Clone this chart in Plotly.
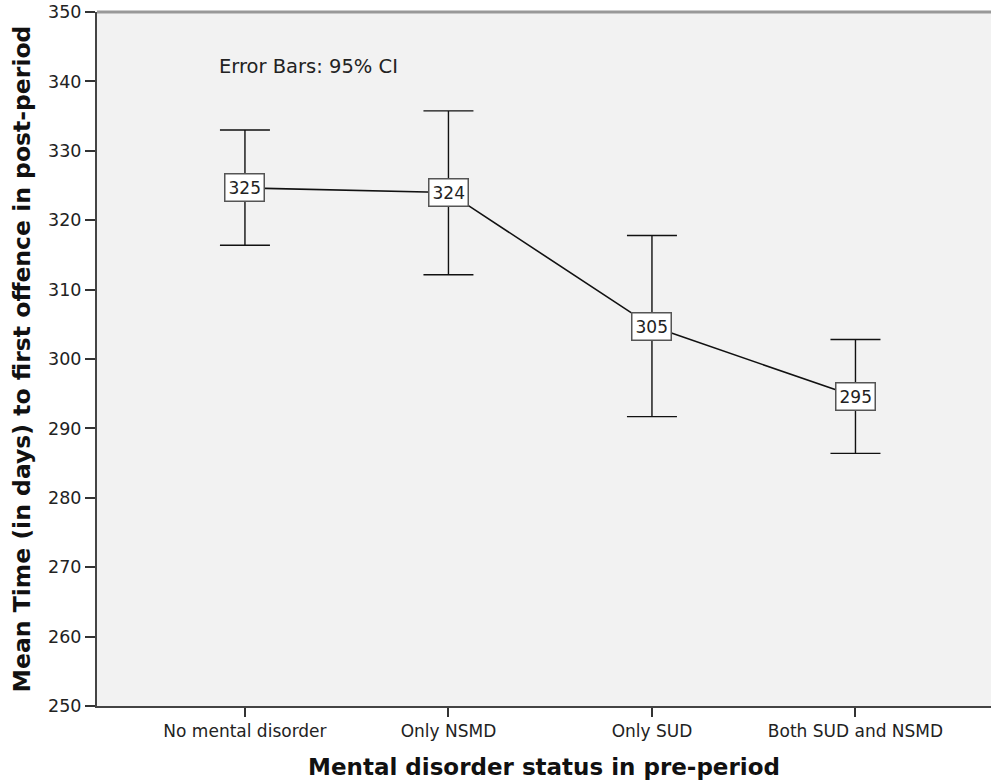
import plotly.graph_objects as go

categories = ["No mental disorder", "Only NSMD", "Only SUD", "Both SUD and NSMD"]
means = [324.65, 324.0, 304.7, 294.6]
ci_upper = [333.0, 335.75, 317.8, 302.8]
ci_lower = [316.4, 312.15, 291.7, 286.4]

err_plus = [u - m for u, m in zip(ci_upper, means)]
err_minus = [m - l for m, l in zip(means, ci_lower)]

FONT = "DejaVu Sans"

fig = go.Figure()
fig.add_trace(go.Scatter(
    x=categories, y=means, mode="lines",
    line=dict(color="#111111", width=1.6),
    error_y=dict(type="data", symmetric=False, array=err_plus, arrayminus=err_minus,
                 color="#111111", thickness=1.4, width=25),
    showlegend=False, hoverinfo="skip",
))

for c, m in zip(categories, means):
    fig.add_annotation(x=c, y=m, text=f"{m:.0f}", showarrow=False,
                       font=dict(family=FONT, size=17, color="#222222"),
                       bgcolor="white", bordercolor="#555555", borderwidth=1.5, borderpad=3)

fig.add_annotation(xref="paper", yref="y", x=0.134, y=342.2, text="Error Bars: 95% CI",
                   showarrow=False, xanchor="left", yanchor="middle",
                   font=dict(family=FONT, size=19.5, color="#222222"))

fig.add_shape(type="line", xref="paper", yref="paper", x0=0, x1=1, y0=1, y1=1,
              line=dict(color="#999999", width=3))

fig.update_layout(
    width=991, height=780,
    margin=dict(l=97, r=0, t=12, b=74),
    paper_bgcolor="white", plot_bgcolor="#f2f2f2",
    font=dict(family=FONT, color="#222222"),
    xaxis=dict(
        type="category", range=[-0.727, 3.666],
        showline=True, linecolor="#444444", linewidth=2,
        ticks="outside", ticklen=9, tickwidth=1.5, tickcolor="#333333",
        tickfont=dict(family=FONT, size=17, color="#222222"),
        showgrid=False, zeroline=False,
        title=dict(text="<b>Mental disorder status in pre-period</b>",
                   font=dict(family=FONT, size=23, color="#111111"), standoff=18),
    ),
    yaxis=dict(
        range=[250, 350], dtick=10, tick0=250,
        showline=True, linecolor="#444444", linewidth=2,
        ticks="outside", ticklen=10, tickwidth=1.5, tickcolor="#333333",
        tickfont=dict(family=FONT, size=17.5, color="#222222"),
        showgrid=False, zeroline=False,
        title=dict(text="<b>Mean Time (in days) to first offence in post-period</b>",
                   font=dict(family=FONT, size=23.5, color="#111111"), standoff=11),
    ),
)

fig.write_html("out.html", config={"displayModeBar": False},
               post_script="document.body.style.margin='0px';document.body.style.overflow='hidden';")
